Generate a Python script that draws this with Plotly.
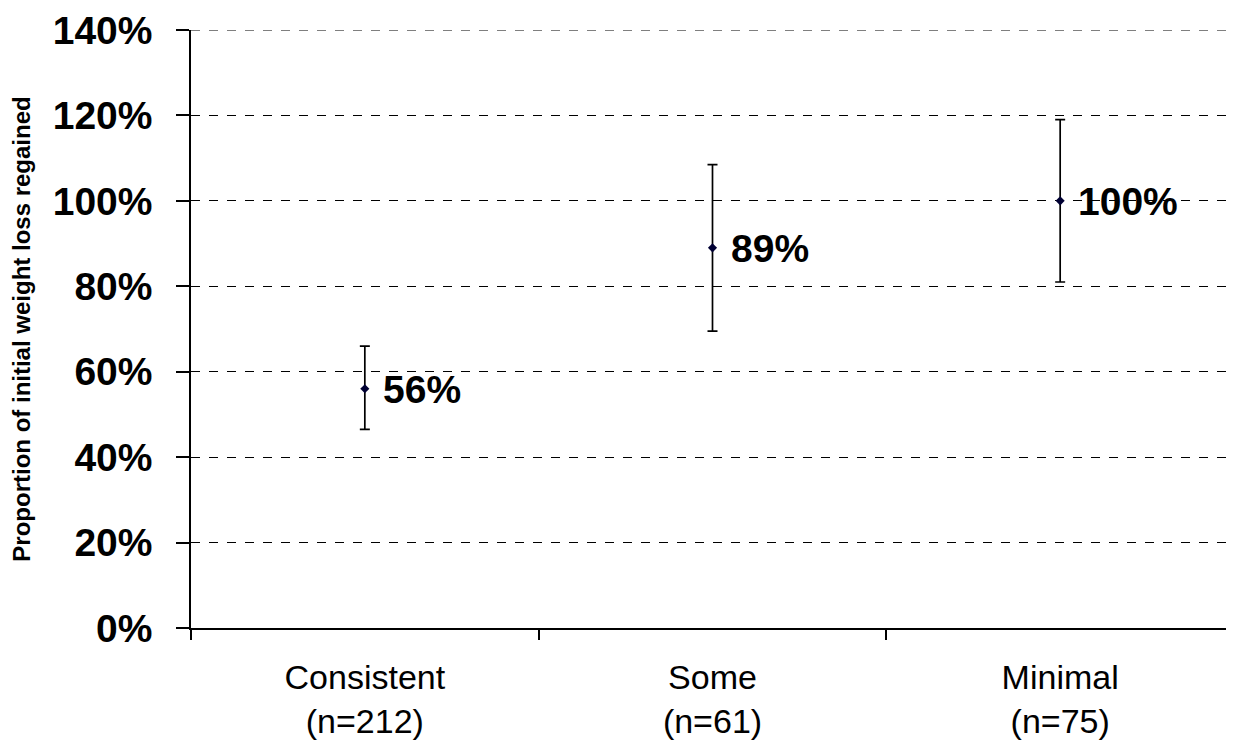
import plotly.graph_objects as go

categories = ["Consistent<br>(n=212)", "Some<br>(n=61)", "Minimal<br>(n=75)"]
values = [56, 89, 100]
err_plus = [10, 19.5, 19]
err_minus = [9.5, 19.5, 19]
labels = ["56%", "89%", "100%"]
y_ticks = [0, 20, 40, 60, 80, 100, 120, 140]
y_tick_text = ["0%", "20%", "40%", "60%", "80%", "100%", "120%", "140%"]

FONT = "Liberation Sans, Arial, sans-serif"

fig = go.Figure()
fig.add_trace(go.Scatter(
    x=categories, y=values,
    mode="markers",
    marker=dict(color="#000033", size=7, symbol="diamond"),
    error_y=dict(type="data", symmetric=False, array=err_plus, arrayminus=err_minus,
                 color="black", thickness=1.7, width=5),
    cliponaxis=False,
    showlegend=False,
))

for c, v, t in zip(categories, values, labels):
    fig.add_annotation(x=c, y=v, text=t, showarrow=False, xanchor="left", yanchor="middle",
                       xshift=16, yshift=-1,
                       font=dict(family=FONT, size=39, color="black", weight="bold"))

# dashed gridline at the top of the range (plotly drops the edge gridline)
fig.add_shape(type="line", xref="paper", yref="y", x0=0, x1=1,
              y0=y_ticks[-1], y1=y_ticks[-1],
              line=dict(color="black", width=1, dash="dash"), layer="below")

fig.update_layout(
    width=1226, height=732,
    margin=dict(l=183, r=0, t=22, b=112),
    paper_bgcolor="white", plot_bgcolor="white",
    font=dict(family=FONT, color="black"),
    xaxis=dict(
        type="category", range=[-0.5, 2.5], automargin=False,
        showline=True, linecolor="black", linewidth=1.5,
        ticks="outside", tickson="boundaries", ticklen=10, tickcolor="black", tickwidth=1.5,
        showgrid=False, zeroline=False,
        tickfont=dict(family=FONT, size=34, color="black"),
        ticklabelstandoff=18,
    ),
    yaxis=dict(
        range=[0, 140], tickvals=y_ticks, ticktext=y_tick_text, automargin=False,
        showline=True, linecolor="black", linewidth=1.5,
        ticks="outside", ticklen=13, tickcolor="black", tickwidth=1.5,
        showgrid=True, gridcolor="black", gridwidth=1, griddash="dash",
        zeroline=False,
        tickfont=dict(family=FONT, size=39, color="black", weight="bold"),
        ticklabelstandoff=16,
        title=dict(text="Proportion of initial weight loss regained",
                   font=dict(family=FONT, size=24, color="black", weight="bold"),
                   standoff=142),
    ),
)

fig.write_html("out.html")
